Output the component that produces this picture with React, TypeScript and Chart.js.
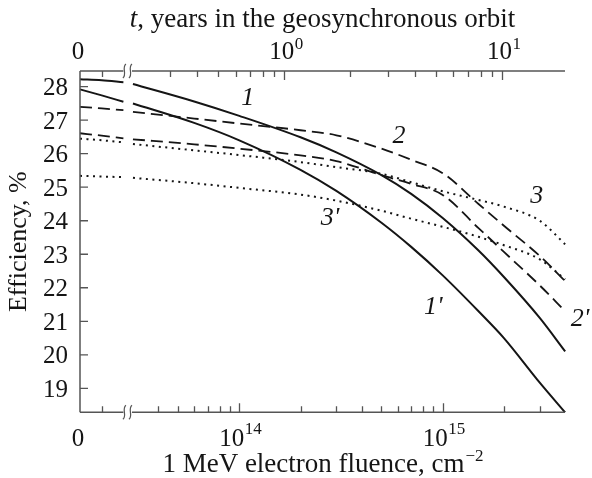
import React, { useEffect, useRef } from 'react';
import { Chart, registerables, LinearScale } from 'chart.js';

Chart.register(...registerables);

// ---------------- data ----------------
// fluence (cm^-2): left linear stub and right logarithmic part
const fluenceLeft = [0, 1e13, 2e13];
const fluenceRight = [3e13, 6e13, 1e14, 2e14, 3e14, 5e14, 7e14, 1e15, 1.5e15, 2e15, 3e15, 4e15];

// efficiency (%)
const eff1Left = [28.22, 28.19, 28.13];
const eff1Right = [28.08, 27.56, 27.13, 26.49, 26.04, 25.36, 24.8, 24.08, 23.11, 22.32, 21.1, 20.1];
const eff1pLeft = [27.92, 27.74, 27.55];
const eff1pRight = [27.5, 26.92, 26.4, 25.52, 24.89, 23.94, 23.22, 22.37, 21.3, 20.5, 19.17, 18.28];
const eff2Left = [27.4, 27.35, 27.3];
const eff2Right = [27.25, 27.05, 26.9, 26.7, 26.55, 26.15, 25.82, 25.42, 24.5, 23.85, 22.95, 22.2];
const eff2pLeft = [26.61, 26.54, 26.46];
const eff2pRight = [26.43, 26.28, 26.15, 25.95, 25.78, 25.36, 25.1, 24.77, 23.78, 23.07, 22.07, 21.3];
const eff3Left = [26.45, 26.4, 26.34];
const eff3Right = [26.29, 26.1, 25.96, 25.75, 25.6, 25.4, 25.15, 24.88, 24.62, 24.42, 24.0, 23.3];
const eff3pLeft = [25.34, 25.32, 25.3];
const eff3pRight = [25.28, 25.12, 24.98, 24.78, 24.6, 24.3, 24.06, 23.82, 23.52, 23.27, 22.85, 22.25];

// curve labels: [text, fluence, efficiency]
const curveLabels: [string, number, number][] = [
  ['1', 1.1e14, 27.72],
  ['2', 6.1e14, 26.6],
  ['3', 2.9e15, 24.8],
  ["3'", 2.79e14, 24.15],
  ["1'", 9e14, 21.5],
  ["2'", 4.73e15, 21.13],
];

// ticks
const yTickValues = [19, 20, 21, 22, 23, 24, 25, 26, 27, 28];
const fluenceStubTicks = [1e13];
const fluenceMinorTicks = [4e13, 5e13, 6e13, 7e13, 8e13, 9e13, 2e14, 3e14, 4e14, 5e14, 6e14, 7e14, 8e14, 9e14, 2e15, 3e15];
const fluenceMajorTicks = [1e14, 1e15];
const fluenceMajorExp = ['14', '15'];
const yearStubTicks = [0.1];
const yearMinorTicks = [0.3, 0.4, 0.5, 0.6, 0.7, 0.8, 0.9, 2, 3, 4, 5, 6, 7, 8, 9];
const yearMajorTicks = [1, 10];
const yearMajorExp = ['0', '1'];

// ---------------- broken axes (linear stub + log part) ----------------
const X_UNITS = 485;
function fluenceUnit(f: number) {
  return f <= 2e13 ? (f / 1e13) * 21.7 : 159.3 + (Math.log10(f) - 14) * 203.4;
}
function yearUnit(t: number) {
  return t <= 0.2 ? (t / 0.1) * 21.7 : 204 + 217.7 * Math.log10(t);
}

class FluenceBrokenScale extends LinearScale {
  static id = 'fluenceBroken';
  static defaults = { ticks: { callback: (v: any) => String(v) } };
  getPixelForValue(v: number) {
    return this.left + (fluenceUnit(v) / X_UNITS) * this.width;
  }
}
class YearBrokenScale extends LinearScale {
  static id = 'yearBroken';
  static defaults = { ticks: { callback: (v: any) => String(v) } };
  getPixelForValue(v: number) {
    return this.left + (yearUnit(v) / X_UNITS) * this.width;
  }
}
Chart.register(FluenceBrokenScale as any, YearBrokenScale as any);

const FAM = '"Liberation Serif", "Times New Roman", serif';
const INK = '#151515';
const AXIS = '#555';

function series(left: number[], right: number[]) {
  const pts: any[] = left.map((y, i) => ({ x: fluenceLeft[i], y }));
  pts.push({ x: 2.5e13, y: null });
  right.forEach((y, i) => pts.push({ x: fluenceRight[i], y }));
  return pts;
}

function drawBreak(ctx: CanvasRenderingContext2D, x: number, y: number) {
  ctx.beginPath();
  ctx.moveTo(x + 1.5, y - 7);
  ctx.bezierCurveTo(x - 3, y - 3, x + 3, y + 3, x - 1.5, y + 7);
  ctx.stroke();
}

function drawPow(ctx: CanvasRenderingContext2D, base: string, exp: string, cx: number, baseline: number, size: number, supSize: number, raise: number) {
  ctx.font = `${size}px ${FAM}`;
  const w1 = ctx.measureText(base).width;
  ctx.font = `${supSize}px ${FAM}`;
  const w2 = ctx.measureText(exp).width;
  const x = cx - (w1 + w2) / 2;
  ctx.textAlign = 'left';
  ctx.textBaseline = 'alphabetic';
  ctx.font = `${size}px ${FAM}`;
  ctx.fillText(base, x, baseline);
  ctx.font = `${supSize}px ${FAM}`;
  ctx.fillText(exp, x + w1 + 0.5, baseline - raise);
}

const axesPlugin = {
  id: 'customAxes',
  afterDatasetsDraw(chart: any) {
    const { ctx, chartArea: ca, scales } = chart;
    const xs = scales.x;
    const xt = scales.x2;
    const ys = scales.y;
    ctx.save();
    ctx.strokeStyle = AXIS;
    ctx.lineWidth = 1.5;
    const bA = xs.getPixelForValue(2e13);
    const bB = xs.getPixelForValue(3e13);
    // axis lines
    ctx.beginPath();
    ctx.moveTo(ca.left, ca.top);
    ctx.lineTo(ca.left, ca.bottom);
    ctx.moveTo(ca.left, ca.bottom);
    ctx.lineTo(bA, ca.bottom);
    ctx.moveTo(bB - 1, ca.bottom);
    ctx.lineTo(ca.right, ca.bottom);
    ctx.moveTo(ca.left, ca.top);
    ctx.lineTo(bA, ca.top);
    ctx.moveTo(bB - 1, ca.top);
    ctx.lineTo(ca.right, ca.top);
    ctx.stroke();
    // breaks
    ctx.lineWidth = 1.2;
    drawBreak(ctx, bA + 1, ca.bottom);
    drawBreak(ctx, bB - 2.5, ca.bottom);
    drawBreak(ctx, bA + 1, ca.top);
    drawBreak(ctx, bB - 2.5, ca.top);
    // ticks
    ctx.lineWidth = 1.3;
    ctx.beginPath();
    yTickValues.forEach((v) => {
      const y = ys.getPixelForValue(v);
      ctx.moveTo(ca.left, y);
      ctx.lineTo(ca.left + 8, y);
    });
    [...fluenceStubTicks, ...fluenceMinorTicks].forEach((v) => {
      const x = Math.round(xs.getPixelForValue(v)) + 0.5;
      ctx.moveTo(x, ca.bottom);
      ctx.lineTo(x, ca.bottom - 6);
    });
    fluenceMajorTicks.forEach((v) => {
      const x = Math.round(xs.getPixelForValue(v)) + 0.5;
      ctx.moveTo(x, ca.bottom);
      ctx.lineTo(x, ca.bottom - 9);
    });
    [...yearStubTicks, ...yearMinorTicks].forEach((v) => {
      const x = Math.round(xt.getPixelForValue(v)) + 0.5;
      ctx.moveTo(x, ca.top);
      ctx.lineTo(x, ca.top + 6);
    });
    yearMajorTicks.forEach((v) => {
      const x = Math.round(xt.getPixelForValue(v)) + 0.5;
      ctx.moveTo(x, ca.top);
      ctx.lineTo(x, ca.top + 9);
    });
    ctx.stroke();

    // tick labels
    ctx.fillStyle = INK;
    ctx.font = `25px ${FAM}`;
    ctx.textAlign = 'right';
    ctx.textBaseline = 'alphabetic';
    yTickValues.forEach((v) => {
      ctx.fillText(String(v), ca.left - 12, ys.getPixelForValue(v) + 8.5);
    });
    const botBase = ca.bottom + 33.5;
    const topBase = ca.top - 11.7;
    ctx.textAlign = 'center';
    ctx.fillText('0', ca.left - 2, botBase);
    ctx.fillText('0', ca.left - 2, topBase);
    fluenceMajorTicks.forEach((v, i) => {
      drawPow(ctx, '10', fluenceMajorExp[i], xs.getPixelForValue(v) + 1, botBase, 25, 17, 11.5);
    });
    yearMajorTicks.forEach((v, i) => {
      drawPow(ctx, '10', yearMajorExp[i], xt.getPixelForValue(v) + 2, topBase, 25, 17, 10);
    });

    // axis titles
    const cx = (ca.left + ca.right) / 2;
    // top
    ctx.textAlign = 'left';
    ctx.font = `italic 27px ${FAM}`;
    const tW = ctx.measureText('t').width;
    ctx.font = `27px ${FAM}`;
    const restTop = ', years in the geosynchronous orbit';
    const rW = ctx.measureText(restTop).width;
    let x0 = cx - (tW + rW) / 2;
    ctx.font = `italic 27px ${FAM}`;
    ctx.fillText('t', x0, 27);
    ctx.font = `27px ${FAM}`;
    ctx.fillText(restTop, x0 + tW, 27);
    // bottom
    const botTitle = '1 MeV electron fluence, cm';
    const sup = '\u22122';
    ctx.font = `27px ${FAM}`;
    const bW = ctx.measureText(botTitle).width;
    ctx.font = `17px ${FAM}`;
    const sW = ctx.measureText(sup).width;
    x0 = cx - (bW + sW) / 2;
    ctx.font = `27px ${FAM}`;
    ctx.fillText(botTitle, x0, 472);
    ctx.font = `17px ${FAM}`;
    ctx.fillText(sup, x0 + bW + 1, 460.5);
    // y title
    ctx.save();
    ctx.translate(26, (ca.top + ca.bottom) / 2);
    ctx.rotate(-Math.PI / 2);
    ctx.textAlign = 'center';
    ctx.font = `26px ${FAM}`;
    ctx.fillText('Efficiency, %', 0, 0);
    ctx.restore();

    // curve labels
    ctx.font = `italic 26px ${FAM}`;
    ctx.textAlign = 'center';
    curveLabels.forEach(([t, f, e]) => {
      ctx.fillText(t, xs.getPixelForValue(f), ys.getPixelForValue(e) + 9);
    });
    ctx.restore();
  },
};

export default function App() {
  const ref = useRef<HTMLCanvasElement | null>(null);
  useEffect(() => {
    if (!ref.current) return;
    const solid = { borderColor: INK, borderWidth: 2 };
    const dashed = { borderColor: INK, borderWidth: 1.8, borderDash: [12, 6] };
    const dotted = { borderColor: INK, borderWidth: 2, borderDash: [2, 4.5] };
    const chart = new Chart(ref.current, {
      type: 'line',
      data: {
        datasets: [
          { label: '1', data: series(eff1Left, eff1Right), ...solid },
          { label: "1'", data: series(eff1pLeft, eff1pRight), ...solid },
          { label: '2', data: series(eff2Left, eff2Right), ...dashed },
          { label: "2'", data: series(eff2pLeft, eff2pRight), ...dashed },
          { label: '3', data: series(eff3Left, eff3Right), ...dotted },
          { label: "3'", data: series(eff3pLeft, eff3pRight), ...dotted },
        ] as any,
      },
      options: {
        responsive: false,
        animation: false,
        devicePixelRatio: 1,
        events: [],
        spanGaps: false,
        layout: { padding: { left: 80, top: 71, right: 27, bottom: 65.7 } },
        elements: {
          point: { radius: 0 },
          line: { cubicInterpolationMode: 'monotone', fill: false },
        },
        plugins: { legend: { display: false }, tooltip: { enabled: false }, title: { display: false } },
        scales: {
          x: { type: 'fluenceBroken' as any, display: false, position: 'bottom' },
          x2: { type: 'yearBroken' as any, display: false, position: 'top', axis: 'x' } as any,
          y: { type: 'linear', display: false, min: 18.284, max: 28.468 },
        },
      },
      plugins: [axesPlugin],
    });
    return () => chart.destroy();
  }, []);
  return (
    <div style={{ position: 'absolute', left: 0, top: 0, width: 592, height: 478, background: '#fff' }}>
      <canvas ref={ref} width={592} height={478} style={{ width: 592, height: 478 }} />
    </div>
  );
}
